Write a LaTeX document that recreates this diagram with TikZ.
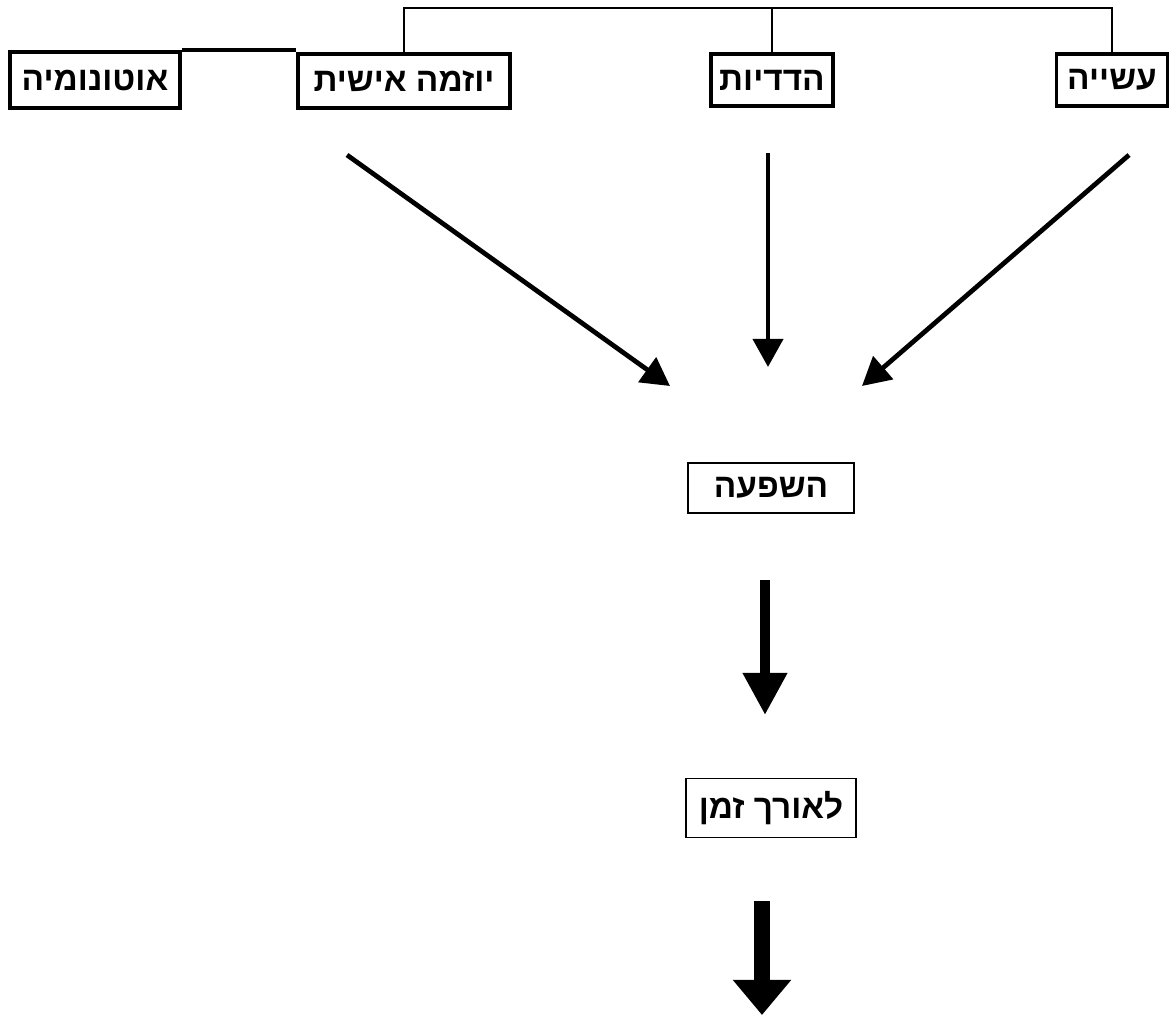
\documentclass[tikz,border=0pt]{standalone}
\usepackage{fontspec}
\setmainfont{Liberation Sans}
\newfontfamily\hebfont[Script=Hebrew]{Liberation Sans}
\TeXXeTstate=1
\usetikzlibrary{arrows.meta}

\newcommand{\heb}[1]{\hebfont\bfseries\beginR #1\endR}

\begin{document}
\begin{tikzpicture}[x=0.02cm, y=-0.02cm,
    topbox/.style={draw, line width=2.2pt, inner sep=0pt, align=center,
        font=\fontsize{19}{22}\selectfont},
    midbox/.style={draw, line width=0.8pt, inner sep=0pt, align=center,
        font=\fontsize{19}{22}\selectfont},
    thinarrow/.style={line width=2.7pt, -{Triangle[length=16pt, width=17pt]}},
    fatarrow/.style={line width=5.7pt, -{Triangle[length=24pt, width=24pt]}}]
    \useasboundingbox (0,0) rectangle (1173,1016);

    % the four sources
    \node[topbox, minimum width=3.4cm, minimum height=1.12cm] (auton) at (95,80) {\heb{אוטונומיה}};
    \node[topbox, minimum width=4.24cm, minimum height=1.08cm] (yozma) at (404,81) {\heb{יוזמה אישית}};
    \node[topbox, minimum width=2.45cm, minimum height=1.04cm] (hadad) at (772,80) {\heb{הדדיות}};
    \node[topbox, minimum width=2.22cm, minimum height=1.04cm] (asiya) at (1112,80) {\heb{עשייה}};

    % result chain
    \node[midbox, minimum width=3.32cm, minimum height=1.0cm] (hashpaa) at (771,488) {\heb{השפעה}};
    \node[midbox, minimum width=3.4cm, minimum height=1.18cm] (laorech) at (771,808) {\heb{לאורך זמן}};

    % bracket over the top boxes
    \draw[line width=0.6pt] (yozma.north) -- (yozma.north |- 0,8) -| (asiya.north);
    \draw[line width=0.6pt] (hadad.north) -- (hadad.north |- 0,8);
    \draw[line width=2pt] (auton.north east) -- (auton.north east -| yozma.north west);

    % arrow ends
    \coordinate (yozmaFrom) at (347,155);
    \coordinate (yozmaTo) at (670,386);
    \coordinate (hadadFrom) at (768,153);
    \coordinate (hadadTo) at (768,367);
    \coordinate (asiyaFrom) at (1129,155);
    \coordinate (asiyaTo) at (862,386);
    \coordinate (midFrom) at (765,580);
    \coordinate (midTo) at (765,715);
    \coordinate (lowFrom) at (762,901);
    \coordinate (lowTo) at (762,1015);

    \draw[thinarrow] (yozmaFrom) -- (yozmaTo);
    \draw[thinarrow] (hadadFrom) -- (hadadTo);
    \draw[thinarrow] (asiyaFrom) -- (asiyaTo);
    \draw[fatarrow] (midFrom) -- (midTo);
    \draw[line width=9pt, -{Triangle[length=20pt, width=32pt]}] (lowFrom) -- (lowTo);
\end{tikzpicture}
\end{document}
